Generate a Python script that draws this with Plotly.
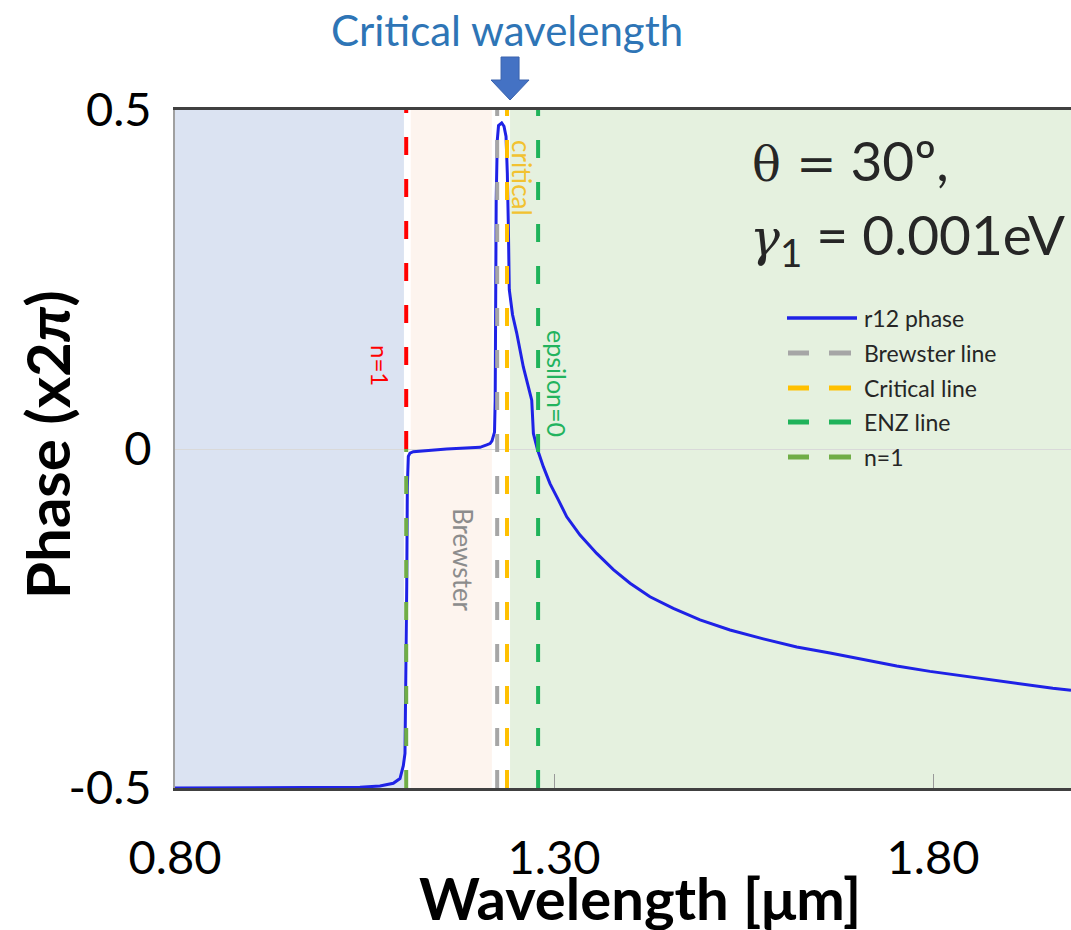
import plotly.graph_objects as go

# ---------------- data ----------------
wavelength = [0.80, 0.965, 1.044, 1.0704, 1.088, 1.0968, 1.1012, 1.1034, 1.1047, 1.1057,
              1.1065, 1.1078, 1.1100, 1.1144, 1.1584, 1.2024, 1.2112, 1.2156, 1.2182, 1.2215,
              1.2224, 1.2228, 1.2237, 1.2252, 1.2268, 1.2310, 1.2340, 1.2367, 1.2384, 1.2397,
              1.2410, 1.2453, 1.2508, 1.2595, 1.2706, 1.2728, 1.2780, 1.2859, 1.2947, 1.3057,
              1.3168, 1.3343, 1.3563, 1.3783, 1.4003, 1.4266, 1.4574, 1.4926, 1.5322, 1.5761,
              1.6202, 1.6641, 1.7081, 1.7521, 1.7960, 1.8400, 1.8840, 1.9280, 1.9580, 1.9820]
r12_phase = [-0.5, -0.5, -0.499, -0.497, -0.493, -0.486, -0.467, -0.449, -0.35, -0.203,
             -0.056, -0.011, -0.006, -0.004, 0.0, 0.0025, 0.006, 0.008, 0.012, 0.025,
             0.072, 0.22, 0.367, 0.456, 0.477, 0.481, 0.476, 0.461, 0.407, 0.333,
             0.235, 0.198, 0.171, 0.121, 0.072, 0.023, 0.0, -0.026, -0.051, -0.075,
             -0.100, -0.127, -0.154, -0.178, -0.198, -0.218, -0.235, -0.252, -0.267, -0.280,
             -0.292, -0.301, -0.311, -0.320, -0.328, -0.335, -0.341, -0.348, -0.353, -0.356]

n1_wl = 1.105
brewster_wl = 1.225
critical_wl = 1.238
enz_wl = 1.279

region_starts = [0.80, 1.111, 1.242]
region_ends = [1.102, 1.218, 2.00]
region_colors = ["#dbe3f2", "#fdf4ee", "#e5f1df"]

x_range = [0.80, 1.982]
y_range = [-0.5, 0.5]
x_tickvals = [0.80, 1.30, 1.80]
x_ticktext = ["0.80", "1.30", "1.80"]
y_tickvals = [-0.5, 0, 0.5]
y_ticktext = ["-0.5", "0", "0.5"]

legend_names = ["r12 phase", "Brewster line", "Critical line", "ENZ line", "n=1"]
legend_colors = ["#1f22e6", "#a6a6a6", "#ffc000", "#1fb35a", "#70ad47"]

# ---------------- layout geometry ----------------
W, H = 1071, 930
L, T, B = 175, 110, 788
R = 1071
PW, PH = R - L, B - T


def px(x):
    return (x - L) / PW


def py(y):
    return (B - y) / PH


FONT = "Lato"
DASH = "18px,24px"

fig = go.Figure()

# curve
fig.add_trace(go.Scatter(x=wavelength, y=r12_phase, mode="lines",
                         line=dict(color=legend_colors[0], width=3),
                         showlegend=False, hoverinfo="skip"))

# vertical dashed lines
fig.add_trace(go.Scatter(x=[n1_wl, n1_wl], y=[0, 0.5], mode="lines",
                         line=dict(color="#ff0000", width=4, dash=DASH), showlegend=False))
fig.add_trace(go.Scatter(x=[n1_wl, n1_wl], y=[-0.5, 0], mode="lines",
                         line=dict(color=legend_colors[4], width=4, dash=DASH), showlegend=False))
fig.add_trace(go.Scatter(x=[brewster_wl, brewster_wl], y=y_range, mode="lines",
                         line=dict(color=legend_colors[1], width=4, dash=DASH), showlegend=False))
fig.add_trace(go.Scatter(x=[critical_wl, critical_wl], y=y_range, mode="lines",
                         line=dict(color=legend_colors[2], width=4, dash=DASH), showlegend=False))
fig.add_trace(go.Scatter(x=[enz_wl, enz_wl], y=y_range, mode="lines",
                         line=dict(color=legend_colors[3], width=4, dash=DASH), showlegend=False))

shapes = []
for x0, x1, c in zip(region_starts, region_ends, region_colors):
    shapes.append(dict(type="rect", xref="x", yref="paper", x0=x0, x1=x1, y0=0, y1=1,
                       fillcolor=c, line=dict(width=0), layer="below"))

# block arrow above the plot
ax_c = critical_wl + 0.004
sw = 9 / PW * (x_range[1] - x_range[0])
hw = 19 / PW * (x_range[1] - x_range[0])
y_top, y_mid, y_tip = py(57), py(80), py(100)
path = (f"M {ax_c - sw},{y_top} L {ax_c + sw},{y_top} L {ax_c + sw},{y_mid} "
        f"L {ax_c + hw},{y_mid} L {ax_c},{y_tip} L {ax_c - hw},{y_mid} L {ax_c - sw},{y_mid} Z")
shapes.append(dict(type="path", xref="x", yref="paper", path=path,
                   fillcolor="#4472c4", line=dict(color="#3a63ad", width=1)))

# custom legend
leg_rows = [318, 353, 388, 422, 457]
for i, (name, col) in enumerate(zip(legend_names, legend_colors)):
    yy = py(leg_rows[i])
    if i == 0:
        shapes.append(dict(type="line", xref="paper", yref="paper", x0=px(787), x1=px(857),
                           y0=yy, y1=yy, line=dict(color=col, width=3.5)))
    else:
        for a, b in [(788, 809), (829, 851)]:
            shapes.append(dict(type="line", xref="paper", yref="paper", x0=px(a), x1=px(b),
                               y0=yy, y1=yy, line=dict(color=col, width=5)))

annotations = []
for i, name in enumerate(legend_names):
    annotations.append(dict(text=name, xref="paper", yref="paper", x=px(862), y=py(leg_rows[i]),
                            xanchor="left", yanchor="middle", showarrow=False,
                            font=dict(family=FONT, size=23, color="#262626")))

# rotated labels
annotations += [
    dict(text="n=1", x=px(381), y=py(365), textangle=90, font=dict(color="#ff0000", size=24)),
    dict(text="Brewster", x=px(463), y=py(560), textangle=90, font=dict(color="#8c8c8c", size=26)),
    dict(text="critical", x=px(522), y=py(178), textangle=90, font=dict(color="#f2c230", size=26)),
    dict(text="epsilon=0", x=px(557), y=py(383), textangle=90, font=dict(color="#22b35e", size=25)),
]
for a in annotations[-4:]:
    a.update(xref="paper", yref="paper", showarrow=False, xanchor="center", yanchor="middle")
    a["font"]["family"] = FONT

# big texts
annotations += [
    dict(text="Critical wavelength", x=px(507), y=py(30), xref="paper", yref="paper",
         showarrow=False, xanchor="center", yanchor="middle",
         font=dict(family=FONT, size=42, color="#2e75b6")),
    dict(text="<span style='font-family:DejaVu Serif;font-size:48px'>θ =</span> 30º,",
         x=px(750), y=py(160),
         xref="paper", yref="paper", showarrow=False, xanchor="left", yanchor="middle",
         font=dict(family=FONT, size=55, color="#262626")),
    dict(text="<span style='font-family:DejaVu Serif;font-size:50px'><i>γ</i></span>"
              "<sub>1</sub> = 0.001eV",
         x=px(748), y=py(238), xref="paper", yref="paper", showarrow=False,
         xanchor="left", yanchor="middle", font=dict(family=FONT, size=55, color="#262626")),
    dict(text="<b>Wavelength [μm]</b>", x=px(640), y=py(897), xref="paper", yref="paper",
         showarrow=False, xanchor="center", yanchor="middle",
         font=dict(family=FONT, size=58, color="#000000")),
    dict(text="<b>Phase (x2<i>π</i>)</b>", x=px(47), y=py(445), xref="paper", yref="paper",
         showarrow=False, xanchor="center", yanchor="middle", textangle=-90,
         font=dict(family=FONT, size=60, color="#000000")),
]

fig.update_layout(
    width=W, height=H,
    margin=dict(l=L, r=W - R, t=T, b=H - B, pad=0),
    paper_bgcolor="white", plot_bgcolor="white",
    showlegend=False,
    shapes=shapes, annotations=annotations,
    xaxis=dict(range=x_range, tickvals=x_tickvals, ticktext=x_ticktext,
               showgrid=False, zeroline=False, showline=True, linecolor="#404040",
               linewidth=3, mirror=True, ticks="inside", ticklen=14, tickcolor="#999999",
               tickwidth=1, ticklabelstandoff=27,
               tickfont=dict(family=FONT, size=47, color="#000000")),
    yaxis=dict(range=y_range, tickvals=y_tickvals, ticktext=y_ticktext,
               showgrid=True, gridcolor="#d9d9d9", gridwidth=1, zeroline=False,
               showline=True, linecolor="#a0a0a0", linewidth=2, ticks="",
               ticklabelstandoff=12,
               tickfont=dict(family=FONT, size=47, color="#000000")),
)

fig.write_html("out.html", config={"displayModeBar": False},
               post_script="document.body.style.margin='0';document.body.style.overflow='hidden';")
